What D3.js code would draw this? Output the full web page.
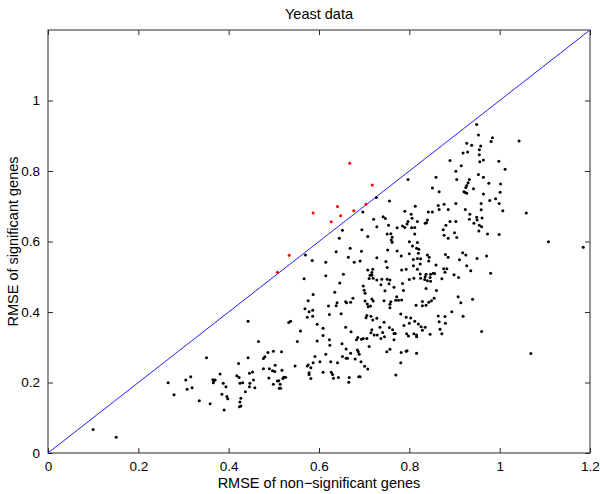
<!DOCTYPE html>
<html><head><meta charset="utf-8">
<script src="https://cdn.jsdelivr.net/npm/d3@7"></script>
<style>body{margin:0;background:#fff}svg{display:block}</style>
</head><body>
<script>
const title = "Yeast data";
const xLabel = "RMSE of non\u2212significant genes";
const yLabel = "RMSE of significant genes";
const xDomain = [0, 1.2];
const yDomain = [0, 1.2];
const xTicks = [0, 0.2, 0.4, 0.6, 0.8, 1, 1.2];
const yTicks = [0, 0.2, 0.4, 0.6, 0.8, 1];
const diagonal = [[0, 0], [1.2, 1.2]];

// genes where RMSE of significant genes exceeds RMSE of non-significant ones (red)
const redPoints = [[0.668,0.822],[0.718,0.760],[0.704,0.706],[0.641,0.699],[0.677,0.687],[0.587,0.681],[0.648,0.673],[0.627,0.656],[0.534,0.561],[0.508,0.513]];

// remaining points (black)
const blackLow = [[0.100,0.067],[0.151,0.045],
[0.266,0.199],[0.279,0.165],[0.305,0.207],[0.316,0.216],[0.308,0.181],[0.319,0.185],[0.335,0.148],[0.351,0.270],[0.359,0.140],[0.365,0.208],[0.367,0.205],[0.370,0.207],[0.366,0.199],[0.381,0.224],[0.388,0.198],[0.394,0.188],[0.385,0.167],[0.396,0.160],[0.398,0.154],[0.390,0.122],[0.422,0.254],[0.418,0.219],[0.423,0.214],[0.425,0.198],[0.431,0.199],[0.427,0.155],[0.425,0.145],[0.424,0.131],[0.427,0.133],[0.443,0.374],[0.443,0.270],[0.446,0.226],[0.453,0.230],[0.455,0.207],[0.447,0.198],[0.446,0.188],[0.437,0.174],[0.458,0.185],[0.466,0.316],[0.477,0.268],[0.480,0.273],[0.487,0.285],[0.477,0.239],[0.490,0.239],[0.489,0.213],[0.499,0.289],[0.497,0.233],[0.502,0.231],[0.503,0.249],[0.517,0.287],[0.518,0.235],[0.499,0.195],[0.508,0.204],[0.511,0.205],[0.514,0.195],[0.515,0.184],[0.512,0.184],[0.520,0.211],[0.522,0.215],[0.526,0.215],[0.533,0.370],[0.537,0.374]];

const blackMidUpper = [[0.727,0.725],[0.756,0.715],[0.697,0.684],[0.742,0.670],[0.747,0.665],[0.721,0.663],[0.754,0.646],[0.773,0.639],[0.728,0.642],[0.652,0.632],[0.695,0.633],[0.751,0.621],[0.759,0.622],[0.762,0.612],[0.708,0.614],[0.645,0.609],[0.760,0.604],[0.762,0.598],[0.669,0.581],[0.638,0.571],[0.694,0.572],[0.752,0.576],[0.773,0.573],[0.570,0.562],[0.585,0.546],[0.615,0.541],[0.665,0.555],[0.678,0.541],[0.691,0.545],[0.728,0.554],[0.748,0.543],[0.751,0.526],[0.567,0.494],[0.615,0.503],[0.654,0.507],[0.708,0.519],[0.719,0.521],[0.717,0.512],[0.717,0.504],[0.713,0.504],[0.711,0.495],[0.720,0.496],[0.728,0.491],[0.739,0.493],[0.751,0.493],[0.757,0.491],[0.646,0.482],[0.698,0.474],[0.700,0.462],[0.737,0.477],[0.755,0.480],[0.766,0.470],[0.587,0.450],[0.635,0.456],[0.746,0.460],[0.702,0.453]];

const blackMidLower = [[0.576,0.432],[0.569,0.409],[0.578,0.401],[0.586,0.405],[0.574,0.385],[0.586,0.388],[0.621,0.417],[0.638,0.418],[0.640,0.426],[0.659,0.429],[0.661,0.426],[0.670,0.428],[0.675,0.439],[0.702,0.431],[0.707,0.423],[0.717,0.437],[0.720,0.431],[0.709,0.415],[0.714,0.417],[0.744,0.432],[0.757,0.422],[0.759,0.429],[0.757,0.412],[0.770,0.433],[0.772,0.443],[0.776,0.433],[0.623,0.393],[0.649,0.395],[0.706,0.390],[0.704,0.384],[0.715,0.388],[0.719,0.377],[0.728,0.382],[0.744,0.371],[0.559,0.346],[0.596,0.365],[0.609,0.354],[0.609,0.333],[0.623,0.321],[0.624,0.306],[0.596,0.318],[0.659,0.357],[0.671,0.344],[0.651,0.310],[0.660,0.295],[0.686,0.328],[0.683,0.321],[0.694,0.323],[0.698,0.325],[0.706,0.325],[0.717,0.350],[0.715,0.341],[0.722,0.335],[0.729,0.335],[0.735,0.357],[0.737,0.325],[0.741,0.342],[0.745,0.330],[0.756,0.356],[0.763,0.350],[0.766,0.339],[0.769,0.339],[0.766,0.321],[0.711,0.302],[0.685,0.292],[0.687,0.287],[0.552,0.316],[0.591,0.274],[0.615,0.280],[0.602,0.259],[0.547,0.247],[0.576,0.250],[0.574,0.247],[0.582,0.242],[0.587,0.256],[0.609,0.229],[0.626,0.259],[0.641,0.256],[0.652,0.274],[0.660,0.269],[0.663,0.269],[0.670,0.283],[0.680,0.267],[0.693,0.259],[0.689,0.280],[0.701,0.246],[0.708,0.238],[0.627,0.229],[0.630,0.223],[0.578,0.228],[0.578,0.223],[0.582,0.211],[0.632,0.212],[0.643,0.214],[0.667,0.214],[0.666,0.201],[0.688,0.216],[0.691,0.216],[0.750,0.287],[0.757,0.294],[0.770,0.221]];

const blackHighUpper = [[0.949,0.932],[0.953,0.902],[0.984,0.894],[0.981,0.884],[0.927,0.879],[0.938,0.873],[0.958,0.871],[0.955,0.860],[0.919,0.851],[0.929,0.854],[0.955,0.846],[0.964,0.831],[0.956,0.826],[0.998,0.828],[0.890,0.830],[0.915,0.815],[0.903,0.799],[1.012,0.805],[0.953,0.790],[0.964,0.782],[0.859,0.782],[0.797,0.776],[0.905,0.776],[0.933,0.776],[0.930,0.767],[0.976,0.765],[1.002,0.763],[0.927,0.759],[0.925,0.753],[0.921,0.741],[0.923,0.740],[0.927,0.737],[0.942,0.750],[0.851,0.752],[0.866,0.741],[0.964,0.735],[1.001,0.740],[0.903,0.708],[0.877,0.706],[0.864,0.702],[0.991,0.721],[0.978,0.716],[0.999,0.708],[0.959,0.708],[0.790,0.686],[0.804,0.677],[0.813,0.700],[0.842,0.684],[0.851,0.684],[0.866,0.691],[0.886,0.691],[0.924,0.691],[0.934,0.677],[0.959,0.690],[1.007,0.687],[0.806,0.666],[0.797,0.657],[0.795,0.650],[0.818,0.657],[0.838,0.653],[0.840,0.661],[0.835,0.652],[0.890,0.657],[0.903,0.657],[0.933,0.663],[0.949,0.669],[0.961,0.667],[0.950,0.661],[0.943,0.652],[0.955,0.646],[0.960,0.642],[0.785,0.644],[0.790,0.640],[0.805,0.639],[0.812,0.640],[0.881,0.646],[0.875,0.633],[0.900,0.625],[0.954,0.630],[0.973,0.621],[0.999,0.620],[0.812,0.621],[0.877,0.618],[0.886,0.609],[0.905,0.611],[1.043,0.885]];

const blackHighLower = [[0.800,0.599],[0.818,0.597],[0.807,0.587],[0.816,0.581],[0.821,0.578],[0.820,0.567],[0.800,0.565],[0.809,0.549],[0.818,0.552],[0.825,0.551],[0.824,0.536],[0.809,0.531],[0.782,0.559],[0.840,0.562],[0.844,0.555],[0.843,0.545],[0.859,0.533],[0.880,0.563],[0.886,0.555],[0.918,0.568],[0.925,0.562],[0.911,0.548],[0.950,0.552],[0.971,0.559],[0.927,0.531],[0.936,0.517],[0.876,0.523],[0.883,0.523],[0.879,0.513],[0.899,0.506],[0.909,0.498],[0.872,0.494],[0.783,0.519],[0.793,0.521],[0.818,0.521],[0.824,0.508],[0.837,0.507],[0.847,0.507],[0.853,0.510],[0.856,0.509],[0.825,0.496],[0.835,0.500],[0.834,0.492],[0.846,0.498],[0.840,0.489],[0.847,0.487],[0.810,0.496],[0.800,0.492],[0.785,0.481],[0.787,0.461],[0.837,0.467],[0.860,0.461],[0.908,0.443],[0.914,0.426],[0.940,0.436],[0.855,0.439],[0.849,0.432],[0.843,0.428],[0.837,0.419],[0.829,0.430],[0.829,0.418],[0.815,0.419],[0.980,0.510],[0.894,0.401],[0.864,0.389],[0.879,0.387],[0.919,0.388],[0.866,0.372],[0.880,0.368],[0.781,0.394],[0.793,0.385],[0.803,0.383],[0.812,0.374],[0.820,0.366],[0.826,0.358],[0.835,0.357],[0.829,0.348],[0.788,0.362],[0.800,0.368],[0.794,0.338],[0.798,0.332],[0.810,0.338],[0.816,0.335],[0.816,0.330],[0.846,0.337],[0.868,0.351],[0.872,0.338],[0.960,0.345],[0.782,0.285],[0.793,0.289],[0.795,0.290],[0.816,0.283],[0.783,0.434],[0.781,0.256]];

const blackOutliers = [[1.059,0.681],[1.108,0.599],[1.185,0.584],[1.069,0.282]];

const blackPoints = [].concat(blackLow, blackMidUpper, blackMidLower, blackHighUpper, blackHighLower, blackOutliers);

const W = 600, H = 494;
const m = {left: 48, right: 10, top: 30, bottom: 41};
const iw = W - m.left - m.right, ih = H - m.top - m.bottom;
const font = "'Liberation Sans', Arial, Helvetica, sans-serif";
const axisColor = "#2b2b2b";

const svg = d3.select("body").append("svg").attr("width", W).attr("height", H);
const g = svg.append("g").attr("transform", `translate(${m.left},${m.top})`);
const x = d3.scaleLinear().domain(xDomain).range([0, iw]);
const y = d3.scaleLinear().domain(yDomain).range([ih, 0]);

const fmt = d => d3.format("~g")(d);

// axes (ticks inward on all 4 sides)
function styleAxis(sel) {
  sel.select(".domain").remove();
  sel.selectAll("line").attr("stroke", axisColor).attr("stroke-width", 1);
  sel.selectAll("text").attr("font-family", font).attr("font-size", 13.5).attr("fill", "#000");
}
g.append("g").attr("transform", `translate(0,${ih})`)
  .call(d3.axisBottom(x).tickValues(xTicks).tickFormat(fmt).tickSizeInner(-5).tickSizeOuter(0).tickPadding(8))
  .call(styleAxis);
g.append("g")
  .call(d3.axisTop(x).tickValues(xTicks).tickFormat("").tickSizeInner(-5).tickSizeOuter(0))
  .call(styleAxis);
g.append("g")
  .call(d3.axisLeft(y).tickValues(yTicks).tickFormat(fmt).tickSizeInner(-5).tickSizeOuter(0).tickPadding(8))
  .call(styleAxis);
g.append("g").attr("transform", `translate(${iw},0)`)
  .call(d3.axisRight(y).tickValues(yTicks).tickFormat("").tickSizeInner(-5).tickSizeOuter(0))
  .call(styleAxis);

g.append("rect").attr("x", 0).attr("y", 0).attr("width", iw).attr("height", ih)
  .attr("fill", "none").attr("stroke", axisColor).attr("stroke-width", 1);

// diagonal y = x
g.append("path").datum(diagonal)
  .attr("d", d3.line().x(d => x(d[0])).y(d => y(d[1])))
  .attr("fill", "none").attr("stroke", "#1f1fff").attr("stroke-width", 1);

// points
g.append("g").selectAll("circle").data(blackPoints).join("circle")
  .attr("cx", d => x(d[0])).attr("cy", d => y(d[1])).attr("r", 1.5).attr("fill", "#000");
g.append("g").selectAll("circle").data(redPoints).join("circle")
  .attr("cx", d => x(d[0])).attr("cy", d => y(d[1])).attr("r", 1.5).attr("fill", "#ff0000");

// labels
svg.append("text").attr("x", m.left + iw / 2).attr("y", 19).attr("text-anchor", "middle")
  .attr("font-family", font).attr("font-size", 14.5).text(title);
svg.append("text").attr("x", m.left + iw / 2).attr("y", 488).attr("text-anchor", "middle")
  .attr("font-family", font).attr("font-size", 14.5).text(xLabel);
svg.append("text").attr("transform", `translate(18,${m.top + ih / 2}) rotate(-90)`).attr("text-anchor", "middle")
  .attr("font-family", font).attr("font-size", 14.5).text(yLabel);
</script>
</body></html>
